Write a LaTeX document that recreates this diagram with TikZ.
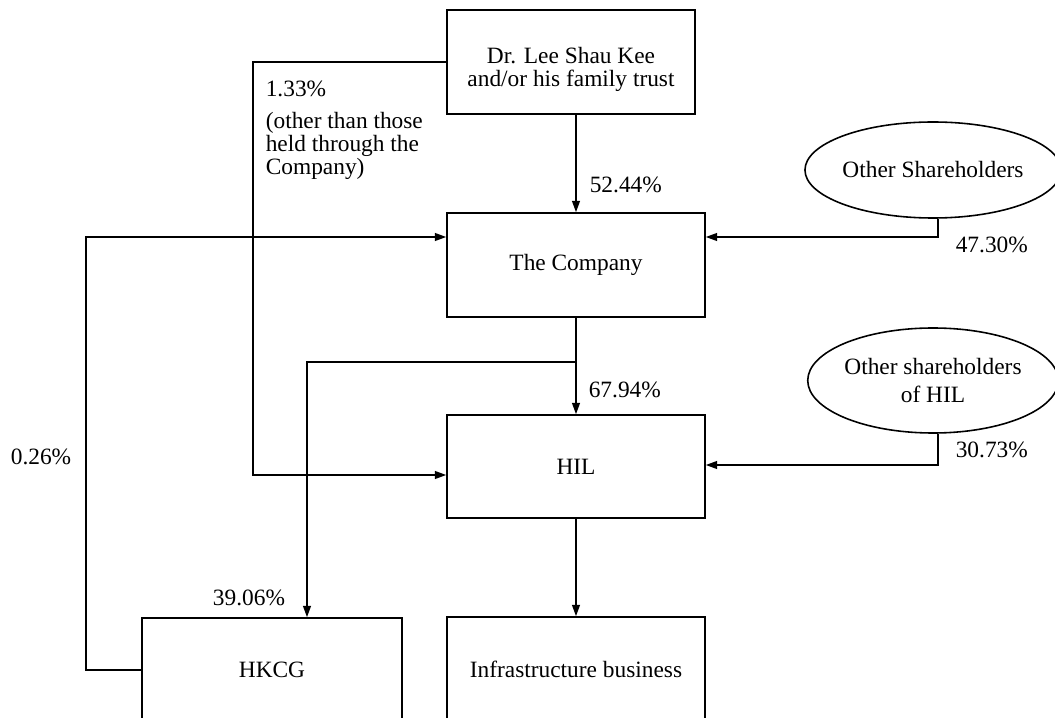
\documentclass[tikz,border=0pt]{standalone}
\usepackage{fontspec}
\setmainfont{Liberation Serif}
\usetikzlibrary{arrows.meta,positioning,calc,shapes.geometric}

\tikzset{
  entity/.style={draw,minimum width=5.16cm,minimum height=2.08cm,align=center,inner sep=0pt},
  holders/.style={draw,ellipse,minimum width=5cm,minimum height=1.92cm,align=center,inner sep=0pt},
  pct/.style={inner sep=0pt}
}

\begin{document}
\begin{tikzpicture}[>={Triangle[length=6.5pt,width=4.5pt]},line width=0.9pt,font=\fontsize{13.3}{13.1}\selectfont]
\useasboundingbox[fill=white] (0,0) rectangle (21.1,14.34);
% boxes
\node[entity,minimum width=4.96cm] (lee) at (11.42,13.1) {};
\node[pct,align=center] (leetxt) at ($(lee)+(0,-0.14)$) {Dr. Lee Shau Kee\\and/or his family trust};
\node[entity] (comp) at (11.52,9.04) {The Company};
\node[entity,minimum height=2.06cm] (hil) at (11.52,5.01) {HIL};
\node[entity,minimum width=5.2cm] (hkcg) at (5.44,0.94) {HKCG};
\node[entity] (infra) at (11.52,0.96) {Infrastructure business};
\node[holders] (oth1) at (18.66,10.94) {Other Shareholders};
\node[holders,minimum height=2.1cm] (oth2) at (18.66,6.73) {Other shareholders\\[2.8pt]of HIL};
% bends
\coordinate (lk) at (5.06,4.84);
\coordinate (j1) at (18.76,9.6);
\coordinate (j2) at (18.76,5.04);
\coordinate (br) at (11.52,7.1);
\coordinate (hk) at (6.14,7.1);
\coordinate (lf) at (1.72,9.6);
% holdings
\draw[->] (lee.south -| comp.north) -- (comp.north);
\draw[->] (lee.west) -| (lk) -- (lk -| hil.west);
\draw[->] (j1 |- oth1.south) -- (j1) -- (j1 -| comp.east);
\draw[->] (j2 |- oth2.south) -- (j2) -- (j2 -| hil.east);
\draw[->] (comp.south) -- (hil.north);
\draw[->] (br) -- (hk) -- (hk |- hkcg.north);
\draw[->] (hkcg.west) -| (lf) -- (lf -| comp.west);
\draw[->] (hil.south) -- (infra.north);
% percentages
\node[pct,anchor=north west,align=left] (note) at (5.3,12.74) {1.33\%\\[5pt](other than those\\held through the\\Company)};
\node[pct,anchor=west] (p52) at (11.78,10.64) {52.44\%};
\node[pct,anchor=west] (p47) at (19.1,9.44) {47.30\%};
\node[pct,anchor=west] (p67) at (11.76,6.54) {67.94\%};
\node[pct,anchor=west] (p30) at (19.1,5.34) {30.73\%};
\node[pct] (p39) at (4.98,2.38) {39.06\%};
\node[pct] (p26) at (0.82,5.2) {0.26\%};
\end{tikzpicture}
\end{document}
